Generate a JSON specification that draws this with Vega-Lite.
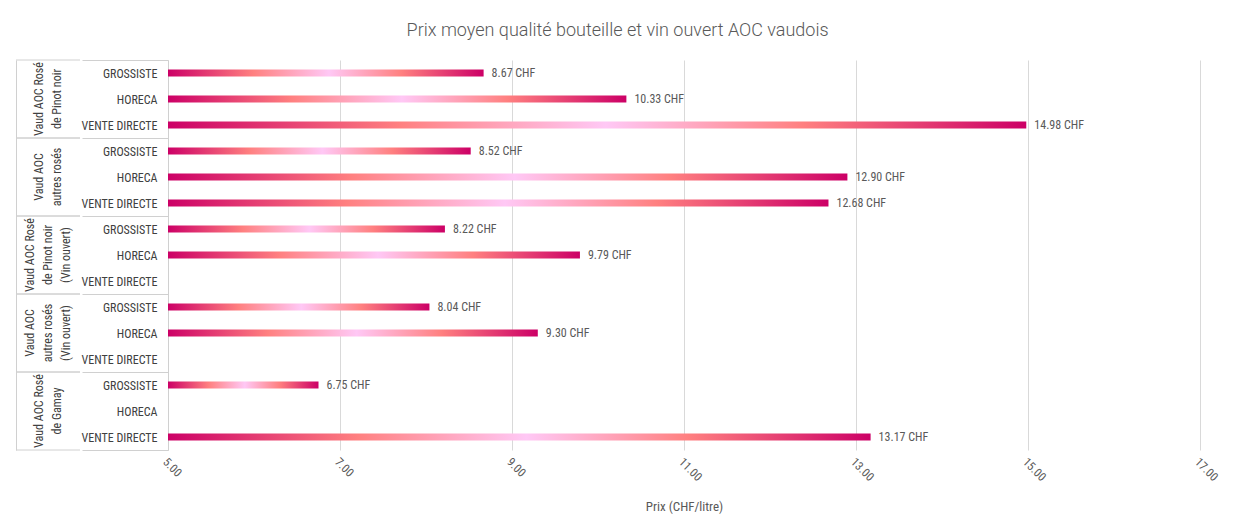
{
  "$schema": "https://vega.github.io/schema/vega-lite/v6.json",
  "background": "white",
  "padding": {"left": 15, "top": 22, "right": 10, "bottom": 5},
  "title": {"text": "Prix moyen qualité bouteille et vin ouvert AOC vaudois", "font": "Roboto", "fontSize": 18, "fontWeight": 300, "color": "#595959", "anchor": "middle", "offset": 14, "frame": "bounds"},
  "config": {"view": {"stroke": null}, "font": "Roboto Condensed, DejaVu Sans Condensed, Liberation Sans Narrow, Roboto", "concat": {"spacing": 0}},
  "data": {"values": [
    {"groupe": "Vaud AOC Rosé\nde Pinot noir", "canal": "GROSSISTE", "prix": 8.67},
    {"groupe": "Vaud AOC Rosé\nde Pinot noir", "canal": "HORECA", "prix": 10.33},
    {"groupe": "Vaud AOC Rosé\nde Pinot noir", "canal": "VENTE DIRECTE", "prix": 14.98},
    {"groupe": "Vaud AOC\nautres rosés", "canal": "GROSSISTE", "prix": 8.52},
    {"groupe": "Vaud AOC\nautres rosés", "canal": "HORECA", "prix": 12.90},
    {"groupe": "Vaud AOC\nautres rosés", "canal": "VENTE DIRECTE", "prix": 12.68},
    {"groupe": "Vaud AOC Rosé\nde Pinot noir\n(Vin ouvert)", "canal": "GROSSISTE", "prix": 8.22},
    {"groupe": "Vaud AOC Rosé\nde Pinot noir\n(Vin ouvert)", "canal": "HORECA", "prix": 9.79},
    {"groupe": "Vaud AOC Rosé\nde Pinot noir\n(Vin ouvert)", "canal": "VENTE DIRECTE", "prix": null},
    {"groupe": "Vaud AOC\nautres rosés\n(Vin ouvert)", "canal": "GROSSISTE", "prix": 8.04},
    {"groupe": "Vaud AOC\nautres rosés\n(Vin ouvert)", "canal": "HORECA", "prix": 9.30},
    {"groupe": "Vaud AOC\nautres rosés\n(Vin ouvert)", "canal": "VENTE DIRECTE", "prix": null},
    {"groupe": "Vaud AOC Rosé\nde Gamay", "canal": "GROSSISTE", "prix": 6.75},
    {"groupe": "Vaud AOC Rosé\nde Gamay", "canal": "HORECA", "prix": null},
    {"groupe": "Vaud AOC Rosé\nde Gamay", "canal": "VENTE DIRECTE", "prix": 13.17}
  ]},
  "transform": [
    {"calculate": "datum.groupe + '|' + datum.canal", "as": "cle"},
    {"calculate": "format(datum.prix, '.2f') + ' CHF'", "as": "etiquette"}
  ],
  "spacing": 0,
  "hconcat": [
    {
      "width": 64,
      "height": 390,
      "transform": [{"aggregate": [{"op": "count", "as": "n"}], "groupby": ["groupe"]}],
      "layer": [
        {
          "mark": {"type": "rule", "color": "#d0d0d0", "strokeWidth": 1},
          "encoding": {
            "y": {"field": "groupe", "type": "nominal", "bandPosition": 0,
              "scale": {"domain": ["Vaud AOC Rosé\nde Pinot noir", "Vaud AOC\nautres rosés", "Vaud AOC Rosé\nde Pinot noir\n(Vin ouvert)", "Vaud AOC\nautres rosés\n(Vin ouvert)", "Vaud AOC Rosé\nde Gamay"], "paddingInner": 0, "paddingOuter": 0},
              "axis": {"labels": false, "ticks": false, "title": null, "domain": true, "domainColor": "#d0d0d0", "minExtent": 0, "grid": false}}
          }
        },
        {
          "mark": {"type": "rule", "color": "#d0d0d0", "strokeWidth": 1},
          "encoding": {
            "y": {"field": "groupe", "type": "nominal", "bandPosition": 1}
          }
        },
        {
          "mark": {"type": "text", "angle": 270, "lineBreak": "\n", "fontSize": 12, "color": "#404040", "lineHeight": 18,
            "dy": {"expr": "-(length(split(datum.groupe, '\\n')) - 1) * 9"}},
          "encoding": {
            "y": {"field": "groupe", "type": "nominal"},
            "text": {"field": "groupe"}
          }
        }
      ]
    },
    {
      "width": 1032,
      "height": 390,
      "encoding": {
        "y": {"field": "cle", "type": "nominal",
          "scale": {"domain": [
            "Vaud AOC Rosé\nde Pinot noir|GROSSISTE", "Vaud AOC Rosé\nde Pinot noir|HORECA", "Vaud AOC Rosé\nde Pinot noir|VENTE DIRECTE",
            "Vaud AOC\nautres rosés|GROSSISTE", "Vaud AOC\nautres rosés|HORECA", "Vaud AOC\nautres rosés|VENTE DIRECTE",
            "Vaud AOC Rosé\nde Pinot noir\n(Vin ouvert)|GROSSISTE", "Vaud AOC Rosé\nde Pinot noir\n(Vin ouvert)|HORECA", "Vaud AOC Rosé\nde Pinot noir\n(Vin ouvert)|VENTE DIRECTE",
            "Vaud AOC\nautres rosés\n(Vin ouvert)|GROSSISTE", "Vaud AOC\nautres rosés\n(Vin ouvert)|HORECA", "Vaud AOC\nautres rosés\n(Vin ouvert)|VENTE DIRECTE",
            "Vaud AOC Rosé\nde Gamay|GROSSISTE", "Vaud AOC Rosé\nde Gamay|HORECA", "Vaud AOC Rosé\nde Gamay|VENTE DIRECTE"
          ], "paddingInner": 0, "paddingOuter": 0},
          "axis": {
            "title": null,
            "labelExpr": "split(datum.label, '|')[1]",
            "tickBand": "extent",
            "tickSize": 86,
            "tickColor": {"condition": {"test": "!datum.value || indexof(datum.value, 'VENTE DIRECTE') >= 0", "value": "#d0d0d0"}, "value": "transparent"},
            "labelPadding": -75,
            "domainColor": "#d0d0d0",
            "labelFontSize": 12,
            "labelColor": "#404040",
            "minExtent": 86,
            "grid": false
          }
        }
      },
      "layer": [
        {
          "mark": {"type": "bar", "size": 7, "fill": {"gradient": "linear", "x1": 0, "x2": 1, "y1": 0, "y2": 0, "stops": [
            {"offset": 0, "color": "#cc0066"},
            {"offset": 0.27, "color": "#ff8080"},
            {"offset": 0.51, "color": "#ffc8f5"},
            {"offset": 0.74, "color": "#ff8080"},
            {"offset": 1, "color": "#cc0066"}
          ]}},
          "encoding": {
            "x": {"field": "prix", "type": "quantitative",
              "scale": {"domain": [5, 17], "nice": false, "zero": false},
              "axis": {"values": [5, 7, 9, 11, 13, 15, 17], "format": ".2f", "labelAngle": 45, "domain": false, "ticks": false, "grid": true, "gridColor": "#d9d9d9", "title": "Prix (CHF/litre)", "titleFontSize": 13, "titleFontWeight": "normal", "titleColor": "#595959", "labelColor": "#595959", "labelFontSize": 12, "labelPadding": 6, "titlePadding": 18}},
            "x2": {"datum": 5}
          }
        },
        {
          "mark": {"type": "text", "align": "left", "dx": 8, "fontSize": 12, "color": "#595959"},
          "encoding": {
            "x": {"field": "prix", "type": "quantitative"},
            "text": {"field": "etiquette"}
          }
        }
      ]
    }
  ]
}
